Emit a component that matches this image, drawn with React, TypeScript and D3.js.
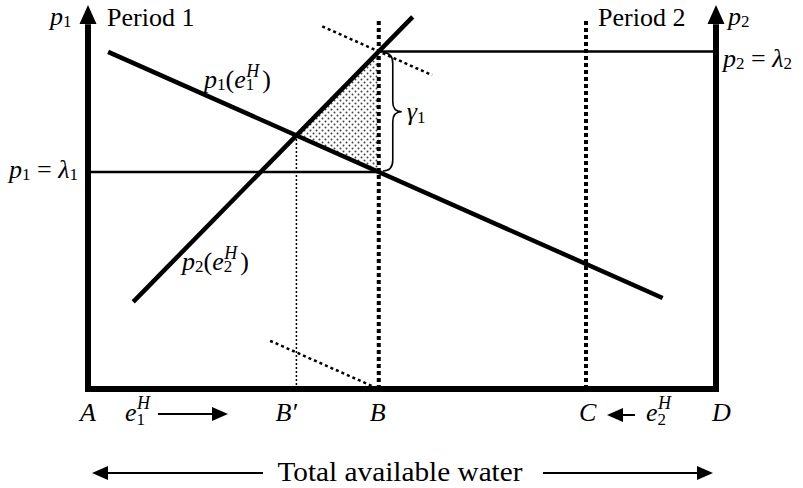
import React from "react";
import * as d3 from "d3";

const W = 803;
const H = 488;

// Diagram in data space: water axis A (0) .. D (100), price axis 0 .. 100
const waterDomain: [number, number] = [0, 100];
const priceDomain: [number, number] = [0, 100];
const pointA = 0;
const pointB = 46.3;
const pointC = 79.3;
const pointD = 100;
const axisTop = 100;
const verticalTop = 96.6;
const demand1: [number, number][] = [[3.2, 87.8], [91.5, 23.7]]; // p1(e1H)
const demand2: [number, number][] = [[7.2, 22.7], [51.7, 96.9]]; // p2(e2H)
const tangentTopX = [37.3, 54.8];
const tangentBottomX = [29.0, 46.3];

const FONT = "'Liberation Serif', 'Times New Roman', Times, serif";

function valueAt(seg: [number, number][], xv: number) {
  const [[x0, y0], [x1, y1]] = seg;
  return y0 + ((y1 - y0) * (xv - x0)) / (x1 - x0);
}
function slope(seg: [number, number][]) {
  const [[x0, y0], [x1, y1]] = seg;
  return (y1 - y0) / (x1 - x0);
}

export default function App() {
  const x = d3.scaleLinear().domain(waterDomain).range([88, 716]);
  const y = d3.scaleLinear().domain(priceDomain).range([389, 5]);
  const line = d3
    .line<[number, number]>()
    .x((d) => x(d[0]))
    .y((d) => y(d[1]));

  const lambda1 = valueAt(demand1, pointB);
  const lambda2 = valueAt(demand2, pointB);
  const s1 = slope(demand1);
  const s2 = slope(demand2);
  const c1 = demand1[0][1] - s1 * demand1[0][0];
  const c2 = demand2[0][1] - s2 * demand2[0][0];
  const xBp = (c2 - c1) / (s1 - s2);
  const yBp = c1 + s1 * xBp;

  const tangentTop: [number, number][] = tangentTopX.map((xv) => [xv, lambda2 + s1 * (xv - pointB)]);
  const tangentBottom: [number, number][] = tangentBottomX.map((xv) => [xv, 0 + s1 * (xv - pointB)]);
  const triangle: [number, number][] = [[xBp, yBp], [pointB, lambda2], [pointB, lambda1]];

  const axisPath = line([
    [pointA, axisTop - 5],
    [pointA, 0],
    [pointD, 0],
    [pointD, axisTop - 5],
  ]);

  const arrowUp = (xv: number) => {
    const px = x(xv);
    const py = y(axisTop);
    return `${px},${py} ${px - 8.5},${py + 19} ${px + 8.5},${py + 19}`;
  };

  // brace
  const bx = x(pointB) + 4;
  const bt = y(lambda2) + 1;
  const bb = y(lambda1) - 1;
  const bm = (bt + bb) / 2;
  const brace = `M${bx},${bt} Q${bx + 10},${bt} ${bx + 10},${bt + 11} L${bx + 10},${bm - 10} Q${bx + 10},${bm} ${bx + 19},${bm} Q${bx + 10},${bm} ${bx + 10},${bm + 10} L${bx + 10},${bb - 11} Q${bx + 10},${bb} ${bx},${bb}`;

  const hArrow = (x1: number, x2: number, yy: number, sw: number) => {
    const dir = x2 > x1 ? 1 : -1;
    const len = 16;
    const half = 7;
    return (
      <g>
        <line x1={x1} y1={yy} x2={x2 - dir * len} y2={yy} stroke="#000" strokeWidth={sw} />
        <polygon points={`${x2},${yy} ${x2 - dir * len},${yy - half} ${x2 - dir * len},${yy + half}`} fill="#000" />
      </g>
    );
  };

  const xA = x(pointA);
  const xB = x(pointB);
  const xC = x(pointC);
  const xD = x(pointD);
  const base = y(0);

  const M = 26; // main math size
  const S = 17; // subscript size
  const SH = 18; // superscript H size

  return (
    <svg
      width={W}
      height={H}
      style={{ position: "absolute", left: 0, top: 0, background: "#fff" }}
      fontFamily={FONT}
    >
      <defs>
        <pattern id="stipple" width="6" height="6" patternUnits="userSpaceOnUse">
          <rect width="6" height="6" fill="#fff" />
          <circle cx="1.5" cy="1.5" r="1" fill="#444" />
          <circle cx="4.5" cy="4.5" r="1" fill="#444" />
        </pattern>
      </defs>

      {/* shaded triangle */}
      <path d={line(triangle) + "Z"} fill="url(#stipple)" stroke="none" />

      {/* horizontal price levels */}
      <line x1={xA} y1={y(lambda1)} x2={xB} y2={y(lambda1)} stroke="#000" strokeWidth={2.5} />
      <line x1={xB} y1={y(lambda2)} x2={xD} y2={y(lambda2)} stroke="#000" strokeWidth={2.5} />

      {/* vertical dotted lines */}
      <line x1={xB} y1={base} x2={xB} y2={y(verticalTop)} stroke="#000" strokeWidth={4} strokeDasharray="4,3" />
      <line x1={xC} y1={base} x2={xC} y2={y(verticalTop)} stroke="#000" strokeWidth={4} strokeDasharray="4,3" />
      <line x1={x(xBp)} y1={base} x2={x(xBp)} y2={y(yBp)} stroke="#000" strokeWidth={1.5} strokeDasharray="2,2" />

      {/* tangent dotted lines */}
      <path d={line(tangentTop) || ""} stroke="#000" strokeWidth={2.5} strokeDasharray="3,3" fill="none" />
      <path d={line(tangentBottom) || ""} stroke="#000" strokeWidth={2.5} strokeDasharray="3,3" fill="none" />

      {/* demand lines */}
      <path d={line(demand1) || ""} stroke="#000" strokeWidth={4.5} fill="none" />
      <path d={line(demand2) || ""} stroke="#000" strokeWidth={4.5} fill="none" />

      {/* axes */}
      <path d={axisPath || ""} stroke="#000" strokeWidth={6} fill="none" strokeLinejoin="miter" />
      <polygon points={arrowUp(pointA)} fill="#000" />
      <polygon points={arrowUp(pointD)} fill="#000" />

      {/* brace */}
      <path d={brace} stroke="#000" strokeWidth={1.6} fill="none" />
      <text x={bx + 24} y={bm + 8} fontSize={M}>
        <tspan fontStyle="italic">γ</tspan>
        <tspan fontSize={S} dy={3}>1</tspan>
      </text>

      {/* top labels */}
      <text x={xA - 38} y={25} fontSize={M}>
        <tspan fontStyle="italic">p</tspan>
        <tspan fontSize={S} dy={2}>1</tspan>
      </text>
      <text x={xA + 19} y={26} fontSize={26}>Period 1</text>
      <text x={xC + 12} y={26} fontSize={26}>Period 2</text>
      <text x={xD + 12} y={25} fontSize={M}>
        <tspan fontStyle="italic">p</tspan>
        <tspan fontSize={S} dy={2}>2</tspan>
      </text>

      {/* price level labels */}
      <text x={9} y={y(lambda1) + 6} fontSize={M}>
        <tspan fontStyle="italic">p</tspan>
        <tspan fontSize={S} dy={2}>1</tspan>
        <tspan dy={-2}> = </tspan>
        <tspan fontStyle="italic">λ</tspan>
        <tspan fontSize={S} dy={2}>1</tspan>
      </text>
      <text x={xD + 7} y={y(lambda2) + 16} fontSize={M}>
        <tspan fontStyle="italic">p</tspan>
        <tspan fontSize={S} dy={2}>2</tspan>
        <tspan dy={-2}> = </tspan>
        <tspan fontStyle="italic">λ</tspan>
        <tspan fontSize={S} dy={2}>2</tspan>
      </text>

      {/* curve labels */}
      <text x={204} y={88} fontSize={M}>
        <tspan fontStyle="italic">p</tspan>
        <tspan fontSize={S} dy={2}>1</tspan>
        <tspan dy={-2}>(</tspan>
        <tspan fontStyle="italic">e</tspan>
        <tspan fontSize={S} dy={2}>1</tspan>
        <tspan fontSize={SH} fontStyle="italic" dx={-8} dy={-13}>H</tspan>
        <tspan dy={11} dx={3}>)</tspan>
      </text>
      <text x={182} y={270} fontSize={M}>
        <tspan fontStyle="italic">p</tspan>
        <tspan fontSize={S} dy={2}>2</tspan>
        <tspan dy={-2}>(</tspan>
        <tspan fontStyle="italic">e</tspan>
        <tspan fontSize={S} dy={2}>2</tspan>
        <tspan fontSize={SH} fontStyle="italic" dx={-8} dy={-13}>H</tspan>
        <tspan dy={11} dx={3}>)</tspan>
      </text>

      {/* bottom labels */}
      <text x={xA - 8} y={421} fontSize={M} fontStyle="italic">A</text>
      <text x={125} y={421} fontSize={M}>
        <tspan fontStyle="italic">e</tspan>
        <tspan fontSize={S} dy={4}>1</tspan>
        <tspan fontSize={SH} fontStyle="italic" dx={-8} dy={-16}>H</tspan>
      </text>
      {hArrow(158, 228, 414, 2)}
      <text x={x(xBp) - 21} y={421} fontSize={M} fontStyle="italic">B′</text>
      <text x={xB - 9} y={421} fontSize={M} fontStyle="italic">B</text>
      <text x={xC - 7} y={421} fontSize={M} fontStyle="italic">C</text>
      {hArrow(635, 607, 415, 2)}
      <text x={646} y={421} fontSize={M}>
        <tspan fontStyle="italic">e</tspan>
        <tspan fontSize={S} dy={4}>2</tspan>
        <tspan fontSize={SH} fontStyle="italic" dx={-8} dy={-16}>H</tspan>
      </text>
      <text x={xD - 4} y={421} fontSize={M} fontStyle="italic">D</text>

      {/* total water */}
      {hArrow(263, 92, 473, 2)}
      {hArrow(543, 713, 473, 2)}
      <text x={400} y={481} fontSize={28} textAnchor="middle" textLength={245} lengthAdjust="spacingAndGlyphs">Total available water</text>
    </svg>
  );
}
